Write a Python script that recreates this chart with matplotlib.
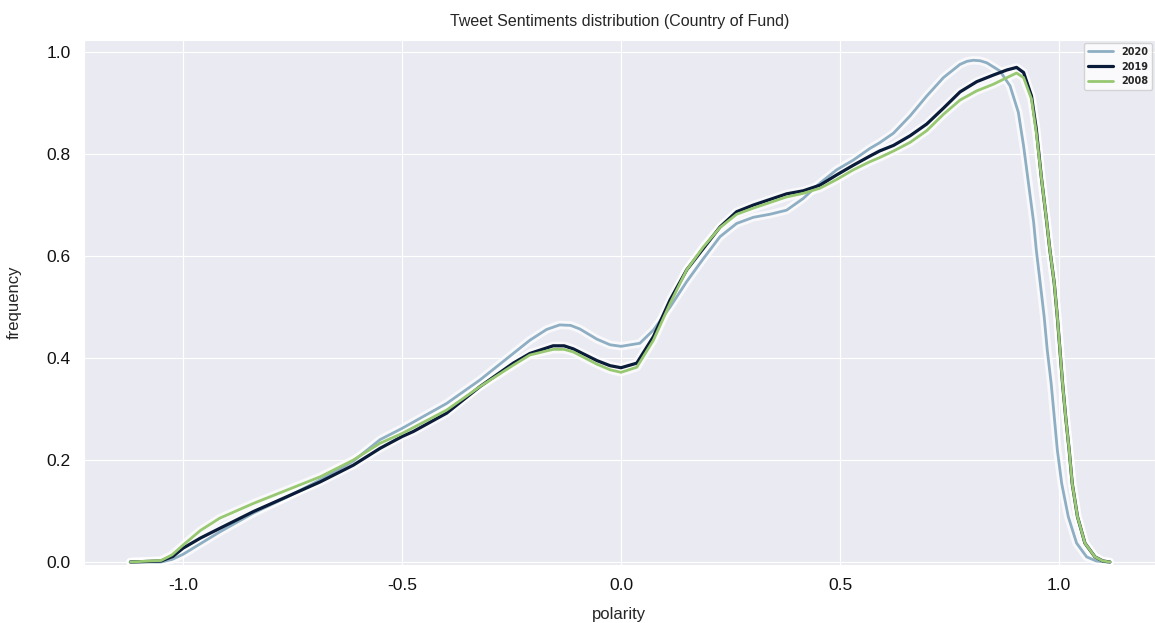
import matplotlib
matplotlib.use("Agg")
import matplotlib.pyplot as plt
import seaborn as sns

# KDE curves of tweet polarity, one per year
x_2020 = [-1.12, -1.05, -1.025, -1.0, -0.96, -0.916, -0.839, -0.763, -0.687, -0.611,
          -0.55, -0.5, -0.398, -0.322, -0.246, -0.208, -0.17, -0.14, -0.115, -0.094,
          -0.055, -0.025, 0.0, 0.043, 0.074, 0.112, 0.15, 0.188, 0.226, 0.264,
          0.302, 0.34, 0.378, 0.416, 0.454, 0.492, 0.53, 0.568, 0.59, 0.622,
          0.66, 0.698, 0.736, 0.774, 0.79, 0.804, 0.82, 0.835, 0.865, 0.888,
          0.907, 0.919, 0.93, 0.942, 0.948, 0.957, 0.966, 0.973, 0.982, 0.989,
          0.996, 1.006, 1.021, 1.04, 1.063, 1.085, 1.11]
y_2020 = [0.0, 0.0, 0.005, 0.015, 0.036, 0.059, 0.096, 0.127, 0.161, 0.198,
          0.24, 0.262, 0.311, 0.357, 0.409, 0.435, 0.456, 0.465, 0.464, 0.457,
          0.437, 0.426, 0.423, 0.429, 0.455, 0.5, 0.55, 0.595, 0.638, 0.664,
          0.676, 0.682, 0.69, 0.713, 0.743, 0.769, 0.788, 0.811, 0.822, 0.841,
          0.875, 0.914, 0.95, 0.976, 0.982, 0.984, 0.983, 0.979, 0.963, 0.934,
          0.882, 0.816, 0.744, 0.666, 0.612, 0.547, 0.481, 0.416, 0.35, 0.285,
          0.22, 0.154, 0.089, 0.037, 0.01, 0.002, 0.0]

x_2019 = [-1.12, -1.05, -1.023, -1.0, -0.96, -0.916, -0.839, -0.763, -0.687, -0.611,
          -0.55, -0.5, -0.474, -0.398, -0.322, -0.246, -0.208, -0.155, -0.13, -0.109,
          -0.055, -0.025, 0.0, 0.036, 0.074, 0.112, 0.15, 0.188, 0.226, 0.264,
          0.302, 0.34, 0.378, 0.416, 0.454, 0.492, 0.53, 0.568, 0.59, 0.622,
          0.66, 0.698, 0.736, 0.774, 0.812, 0.85, 0.881, 0.903, 0.919, 0.937,
          0.948, 0.96, 0.971, 0.979, 0.989, 0.996, 1.002, 1.008, 1.015, 1.023,
          1.03, 1.042, 1.059, 1.082, 1.1, 1.116]
y_2019 = [0.0, 0.002, 0.011, 0.027, 0.047, 0.066, 0.099, 0.128, 0.157, 0.19,
          0.223, 0.246, 0.256, 0.292, 0.344, 0.39, 0.409, 0.424, 0.424, 0.418,
          0.395, 0.385, 0.381, 0.39, 0.442, 0.514, 0.573, 0.615, 0.657, 0.687,
          0.7, 0.711, 0.722, 0.728, 0.739, 0.759, 0.778, 0.796, 0.806, 0.817,
          0.836, 0.859, 0.89, 0.922, 0.942, 0.955, 0.965, 0.97, 0.96, 0.914,
          0.849, 0.751, 0.673, 0.612, 0.547, 0.481, 0.416, 0.35, 0.285, 0.22,
          0.154, 0.089, 0.037, 0.01, 0.002, 0.0]

x_2008 = [-1.12, -1.05, -1.025, -1.0, -0.96, -0.916, -0.839, -0.763, -0.687, -0.611,
          -0.55, -0.5, -0.398, -0.322, -0.246, -0.208, -0.155, -0.13, -0.109, -0.055,
          -0.025, 0.0, 0.036, 0.074, 0.112, 0.15, 0.188, 0.226, 0.264, 0.302,
          0.34, 0.378, 0.416, 0.454, 0.492, 0.53, 0.568, 0.59, 0.622, 0.66,
          0.698, 0.736, 0.774, 0.812, 0.85, 0.881, 0.903, 0.919, 0.937, 0.948,
          0.96, 0.971, 0.979, 0.989, 0.996, 1.002, 1.008, 1.015, 1.023, 1.03,
          1.042, 1.059, 1.082, 1.1, 1.116]
y_2008 = [0.0, 0.003, 0.014, 0.033, 0.062, 0.086, 0.115, 0.141, 0.167, 0.2,
          0.233, 0.252, 0.298, 0.344, 0.386, 0.406, 0.417, 0.417, 0.412, 0.388,
          0.377, 0.372, 0.382, 0.435, 0.507, 0.573, 0.618, 0.656, 0.682, 0.694,
          0.705, 0.716, 0.723, 0.733, 0.75, 0.769, 0.785, 0.793, 0.806, 0.823,
          0.846, 0.878, 0.906, 0.924, 0.937, 0.95, 0.959, 0.95, 0.908, 0.842,
          0.751, 0.673, 0.612, 0.547, 0.481, 0.416, 0.35, 0.285, 0.22, 0.154,
          0.089, 0.037, 0.01, 0.002, 0.0]

series = [
    ("2020", x_2020, y_2020, "#8eaec3", 2.0),
    ("2019", x_2019, y_2019, "#0a1c3a", 2.3),
    ("2008", x_2008, y_2008, "#98c872", 2.0),
]

sns.set_style("darkgrid")
plt.rcParams["font.family"] = ["Liberation Sans", "DejaVu Sans"]
plt.rcParams["axes.unicode_minus"] = False

fig = plt.figure(figsize=(11.55, 6.23), dpi=100)
ax = fig.add_axes([0.0727, 0.093, 0.9273, 0.843])

# white halo under every curve first, then the curves on top
for name, xs, ys, color, lw in series:
    ax.plot(xs, ys, color="white", lw=6, alpha=0.75, solid_joinstyle="round",
            solid_capstyle="round", zorder=2)
for name, xs, ys, color, lw in series:
    ax.plot(xs, ys, color=color, lw=lw, label=name, solid_joinstyle="round",
            solid_capstyle="round", zorder=3)

ax.set_xlim(-1.226, 1.219)
ax.set_ylim(-0.006, 1.024)
ax.set_xticks([-1.0, -0.5, 0.0, 0.5, 1.0])
ax.set_yticks([0.0, 0.2, 0.4, 0.6, 0.8, 1.0])
ax.tick_params(labelsize=12.5, colors="#111111", pad=6)

ax.set_title("Tweet Sentiments distribution (Country of Fund)", fontsize=11.5, pad=10)
ax.set_xlabel("polarity", fontsize=12, labelpad=10)
ax.set_ylabel("frequency", fontsize=12, labelpad=18)

leg = ax.legend(loc="upper right", frameon=True, handlelength=2.6, borderaxespad=0.3,
                prop={"family": "DejaVu Sans", "weight": "bold", "size": 7})
leg.get_frame().set_facecolor("white")
leg.get_frame().set_edgecolor("#cccccc")

fig.savefig("out.png", dpi=100)
